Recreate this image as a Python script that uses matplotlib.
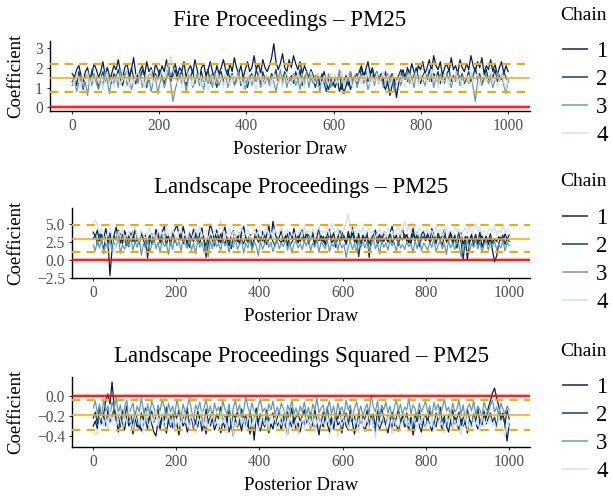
import matplotlib
matplotlib.use("Agg")
import matplotlib.pyplot as plt
import matplotlib.transforms as mtransforms
from matplotlib.lines import Line2D
import numpy as np

plt.rcParams['font.family'] = ['Liberation Serif', 'DejaVu Serif']

# ---- data (thinned to every 5th draw) ----
titles = ['Fire Proceedings \u2013 PM25',
          'Landscape Proceedings \u2013 PM25',
          'Landscape Proceedings Squared \u2013 PM25']
chain_names = ['1', '2', '3', '4']
chain_colors = ['#011f4b', '#03396c', '#6497b1', '#cfe0ec']

fire_c1 = [1.7, 1.5, 1.9, 2.1, 1.6, 1.3, 1.8, 2.0, 1.4, 1.7,
           2.2, 1.9, 1.5, 1.8, 2.3, 1.6, 2.0, 1.2, 1.7, 2.1,
           1.9, 2.4, 1.8, 1.5, 2.0, 2.2, 1.6, 1.9, 2.5, 1.7,
           1.4, 1.9, 2.1, 1.6, 2.3, 1.8, 2.0, 1.5, 2.2, 1.9,
           1.6, 2.1, 1.8, 2.4, 1.7, 1.3, 1.9, 2.2, 1.6, 2.0,
           1.8, 2.3, 1.5, 1.9, 2.1, 1.7, 2.4, 1.9, 1.4, 2.0,
           2.2, 1.6, 1.9, 2.3, 1.8, 1.5, 2.1, 1.7, 2.0, 2.4,
           1.9, 1.6, 2.2, 1.8, 2.5, 2.0, 1.7, 2.1, 1.5, 1.9,
           2.3, 1.8, 2.0, 2.6, 1.9, 2.2, 1.7, 2.4, 2.0, 1.8,
           2.1, 2.5, 3.2, 2.3, 1.9, 2.2, 2.7, 2.0, 1.8, 2.4,
           2.0, 2.6, 2.2, 1.9, 2.3, 1.7, 2.1, 1.8, 1.5, 1.9,
           1.6, 1.3, 1.7, 1.1, 1.4, 1.8, 1.2, 0.9, 1.5, 1.3,
           1.0, 1.4, 0.8, 1.2, 0.7, 1.1, 1.5, 0.9, 1.3, 1.6,
           1.2, 1.8, 2.1, 1.6, 1.9, 2.3, 1.7, 2.0, 1.5, 1.8,
           1.4, 1.7, 1.2, 0.9, 1.3, 0.6, 1.1, 1.5, 0.5, 1.2,
           1.6, 1.9, 1.4, 2.0, 1.7, 2.2, 1.8, 1.5, 2.1, 1.9,
           2.3, 1.7, 2.0, 2.4, 1.8, 2.6, 2.1, 1.9, 2.3, 1.6,
           2.0, 2.2, 1.8, 2.5, 1.9, 2.1, 1.7, 2.4, 2.0, 1.8,
           2.2, 1.9, 2.6, 2.1, 1.8, 2.3, 2.0, 2.5, 1.7, 2.1,
           1.9, 2.4, 1.8, 2.2, 1.6, 2.0, 2.3, 1.7, 2.1, 1.8]
fire_c2 = [1.3, 1.6, 1.1, 1.8, 1.4, 0.9, 1.5, 1.7, 1.2, 1.9,
           1.4, 1.6, 1.0, 1.5, 1.8, 1.3, 2.0, 1.6, 1.2, 1.7,
           1.5, 1.9, 1.4, 1.1, 1.6, 1.8, 1.3, 2.0, 1.5, 1.2,
           1.7, 1.4, 1.9, 1.6, 1.0, 1.5, 1.8, 1.3, 1.7, 1.4,
           1.9, 1.5, 1.2, 1.7, 2.1, 1.4, 1.6, 1.9, 1.3, 1.6,
           1.8, 1.4, 1.1, 1.7, 1.5, 1.9, 1.2, 1.6, 1.4, 1.8,
           1.3, 1.5, 1.9, 1.2, 1.7, 1.4, 1.0, 1.6, 1.8, 1.3,
           1.6, 1.9, 1.4, 1.7, 1.2, 1.5, 1.8, 1.1, 1.6, 1.4,
           1.0, 1.5, 1.7, 1.3, 1.9, 1.5, 1.2, 1.8, 1.4, 1.6,
           1.3, 1.7, 1.5, 1.9, 1.2, 1.6, 1.4, 1.8, 1.5, 1.3,
           1.6, 1.2, 1.8, 1.4, 1.9, 1.1, 1.5, 1.7, 1.3, 1.8,
           1.4, 1.0, 1.6, 1.3, 1.7, 1.2, 0.8, 1.4, 1.6, 1.1,
           1.5, 1.2, 1.7, 0.9, 1.4, 1.6, 1.1, 1.8, 1.3, 1.5,
           1.7, 1.4, 2.0, 1.5, 1.8, 1.3, 1.6, 1.9, 1.4, 1.7,
           1.2, 1.6, 1.3, 1.8, 1.1, 1.5, 1.7, 1.0, 1.4, 1.6,
           1.9, 1.5, 1.7, 1.3, 1.8, 1.4, 1.6, 2.0, 1.5, 1.2,
           1.6, 1.8, 1.4, 1.9, 1.3, 1.7, 1.5, 1.8, 1.2, 1.6,
           1.4, 1.7, 1.9, 1.3, 1.6, 1.5, 1.8, 1.4, 1.7, 1.2,
           1.5, 1.8, 1.3, 1.6, 2.0, 1.4, 1.7, 1.2, 1.6, 1.9,
           1.4, 1.7, 1.5, 1.9, 1.3, 1.6, 1.4, 1.8, 1.5, 1.3]
fire_c3 = [1.1, 1.4, 0.8, 1.2, 1.6, 1.0, 1.3, 0.6, 1.5, 1.1,
           1.7, 1.2, 0.9, 1.4, 1.1, 1.8, 1.3, 0.7, 1.5, 1.2,
           1.6, 1.0, 1.9, 1.4, 1.7, 1.1, 1.5, 0.9, 1.3, 1.6,
           1.2, 1.8, 1.0, 1.4, 1.1, 1.6, 0.8, 1.3, 1.5, 0.7,
           1.2, 1.6, 1.0, 1.4, 2.0, 1.1, 0.3, 0.9, 1.3, 1.7,
           1.2, 1.5, 0.8, 1.4, 1.6, 1.0, 1.3, 1.7, 1.1, 1.4,
           0.9, 1.5, 1.2, 1.6, 1.0, 1.8, 1.3, 1.1, 1.5, 1.2,
           1.7, 1.0, 1.4, 1.6, 1.1, 1.3, 1.8, 1.2, 1.5, 0.9,
           1.4, 1.6, 1.1, 1.5, 1.3, 1.7, 1.0, 1.4, 1.2, 1.6,
           1.1, 1.5, 1.3, 0.8, 1.4, 1.9, 1.2, 1.6, 1.0, 1.5,
           1.3, 1.7, 1.1, 1.4, 0.9, 1.6, 1.2, 1.8, 1.0, 1.5,
           1.2, 1.6, 1.4, 0.8, 1.3, 1.5, 1.1, 1.7, 1.0, 1.4,
           1.6, 1.2, 1.9, 1.4, 1.1, 1.5, 1.3, 1.8, 1.2, 1.6,
           1.0, 1.4, 1.7, 1.2, 1.5, 0.9, 1.3, 1.6, 1.1, 1.8,
           1.3, 1.5, 1.0, 1.4, 1.7, 1.2, 1.6, 0.8, 1.3, 1.5,
           1.1, 1.6, 1.4, 1.8, 1.2, 1.5, 1.0, 1.7, 1.3, 1.6,
           1.4, 1.1, 1.6, 1.3, 1.8, 1.0, 1.5, 1.2, 1.7, 1.4,
           1.2, 1.7, 1.4, 1.0, 1.5, 1.3, 1.8, 1.1, 1.6, 1.4,
           1.5, 1.2, 1.7, 1.0, 0.3, 1.3, 1.6, 1.1, 1.4, 1.7,
           1.2, 1.5, 1.0, 1.4, 1.8, 1.3, 1.6, 1.1, 0.7, 1.4]
fire_c4 = [1.5, 1.2, 1.7, 1.4, 1.0, 1.6, 1.3, 1.8, 1.1, 1.5,
           1.3, 1.7, 1.2, 1.6, 0.9, 1.4, 1.8, 1.2, 1.5, 1.0,
           1.4, 1.7, 1.1, 1.6, 1.3, 1.8, 1.0, 1.5, 1.2, 1.6,
           1.8, 1.3, 1.5, 1.0, 1.7, 1.4, 1.9, 1.2, 1.6, 1.3,
           1.5, 1.9, 1.4, 1.7, 2.2, 2.6, 1.8, 1.6, 1.2, 1.5,
           1.0, 1.6, 1.3, 1.8, 1.4, 1.1, 1.6, 1.3, 1.7, 1.0,
           1.5, 1.2, 0.8, 1.4, 1.6, 1.2, 1.8, 1.3, 1.5, 1.0,
           1.7, 1.4, 1.1, 1.6, 1.3, 1.7, 1.2, 1.5, 0.9, 1.4,
           1.8, 1.2, 1.6, 1.3, 0.9, 1.5, 1.7, 1.1, 1.4, 1.6,
           1.5, 1.1, 1.7, 1.4, 1.2, 1.6, 1.0, 1.5, 1.8, 1.3,
           1.1, 1.6, 1.4, 1.7, 1.2, 1.5, 1.0, 1.6, 1.3, 1.8,
           1.4, 1.2, 1.7, 1.5, 1.0, 1.6, 1.4, 1.1, 1.7, 1.3,
           1.6, 1.2, 1.5, 1.8, 1.1, 1.4, 1.6, 1.3, 1.0, 1.5,
           1.3, 1.7, 1.2, 1.6, 1.4, 1.9, 1.1, 1.5, 1.3, 1.7,
           1.2, 1.5, 1.8, 1.3, 1.6, 1.0, 1.4, 1.7, 1.2, 1.5,
           1.6, 1.3, 1.0, 1.5, 1.7, 1.2, 1.4, 1.8, 1.1, 1.6,
           1.4, 1.7, 1.2, 1.5, 1.9, 1.3, 1.6, 1.0, 1.5, 1.2,
           1.7, 1.4, 1.1, 1.6, 1.3, 1.8, 1.2, 1.5, 1.0, 1.4,
           1.6, 1.3, 1.8, 1.2, 1.5, 1.7, 1.1, 1.4, 1.6, 1.3,
           1.5, 1.8, 1.2, 1.6, 1.0, 1.4, 1.7, 1.3, 0.9, 1.5]

land_c1 = [3.8, 3.2, 4.1, 2.6, 3.5, 2.9, 4.3, 3.0, -2.2, 1.4,
           3.4, 4.5, 2.8, 3.6, 2.2, 4.0, 3.1, 1.8, 3.7, 2.5,
           4.3, 3.0, 2.1, 3.9, 2.7, 3.4, 0.2, 2.9, 3.6, 2.4,
           4.2, 3.1, 2.5, 3.8, 4.6, 2.9, 3.3, 2.0, 3.7, 4.1,
           4.8, 3.5, 2.7, 4.6, 3.3, 2.0, 3.8, 2.9, 4.2, 3.1,
           2.4, 3.6, 4.4, 2.8, 1.7, 3.3, 4.9, 3.9, 2.6, 4.1,
           3.0, 2.3, 3.7, 4.5, 2.9, 1.9, 3.4, 4.0, 2.5, 3.2,
           2.1, 3.8, 4.6, 3.0, 2.4, 3.5, 1.6, 2.8, 4.2, 3.3,
           2.6, 3.9, 2.2, 3.4, 4.7, 2.9, 5.3, 3.6, 2.7, 3.1,
           4.0, 2.5, 3.3, 1.9, 3.8, 2.8, 4.3, 3.0, 2.3, 3.6,
           4.1, 2.7, 3.5, 3.4, 2.9, 3.8, 2.2, 3.1, 4.4, 2.6,
           3.2, 2.0, 3.5, 4.2, 2.8, 3.7, 2.4, 3.0, 4.0, 2.7,
           3.3, 2.1, 3.9, 2.6, 4.5, 3.0, 2.3, 3.6, 1.8, 3.2,
           2.5, 3.8, 0.3, 2.9, 3.4, 4.1, 2.7, 3.5, 2.2, 3.9,
           3.1, 2.4, 3.7, 4.6, 2.8, 3.3, 2.0, 3.6, 4.2, 2.9,
           3.5, 2.3, 3.0, 4.4, 2.6, 3.8, 2.1, 3.4, 4.0, 2.7,
           3.6, 2.5, 4.3, 3.1, 2.2, 3.7, 2.8, 3.3, 4.1, 2.4,
           3.0, 3.9, 2.5, 3.4, 1.6, 2.9, 3.7, 2.0, 3.2, 0.0,
           2.7, 3.5, 1.9, 3.1, 2.4, 3.8, 1.7, 2.6, 3.3, 2.1,
           3.0, 1.3, -0.3, 0.5, 2.2, 3.1, 2.5, 3.6, 2.8, 3.4]
land_c2 = [2.9, 3.4, 2.1, 3.8, 2.6, 1.4, 3.1, 2.4, 3.7, 2.0,
           3.2, 2.7, 4.1, 2.3, 3.5, 2.9, 1.9, 3.3, 2.6, 3.9,
           2.2, 3.0, 2.5, 3.6, 2.8, 1.8, 2.4, 3.4, 2.1, 3.1,
           2.7, 3.8, 2.3, 2.9, 3.5, 2.0, 3.2, 2.6, 4.0, 2.4,
           3.0, 2.7, 3.6, 2.2, 3.3, 2.8, 1.7, 3.1, 2.5, 3.7,
           2.9, 2.3, 3.4, 2.6, 0.3, 2.1, 3.5, 2.7, 1.9, 3.2,
           2.4, 3.6, 2.8, 2.2, 3.0, 2.6, 1.5, 2.9, 3.3, 2.5,
           3.7, 2.8, 2.2, 3.1, 2.6, 3.4, 1.8, 2.9, 3.2, 2.4,
           3.0, 2.6, 3.5, 2.1, 2.8, 3.3, 2.5, 1.9, 3.0, 2.7,
           2.3, 3.2, 2.6, 3.6, 2.0, 2.4, 3.0, 2.7, 3.3, 2.5,
           3.1, 2.5, 3.8, 2.2, 2.9, 3.4, 2.0, 3.0, 2.6, 3.5,
           2.4, 3.1, 2.7, 3.6, 2.3, 2.8, 1.7, 3.2, 2.6, 3.9,
           2.8, 2.2, 3.3, 2.7, 3.7, 2.4, 3.0, 0.4, 2.5, 3.4,
           2.9, 3.5, 2.2, 3.0, 2.7, 3.6, 2.1, 2.8, 3.3, 2.5,
           3.2, 2.6, 3.8, 2.3, 2.9, 3.4, 2.0, 3.1, 2.7, 3.5,
           2.5, 3.0, 2.2, 3.6, 2.8, 3.3, 1.8, 2.9, 3.2, 2.6,
           3.4, 2.3, 2.9, 3.7, 2.5, 3.1, 2.7, 2.0, 3.3, 2.8,
           2.6, 3.5, 2.1, 3.0, 2.7, 3.8, 2.4, 0.0, 2.9, 3.2,
           2.2, 3.1, 2.7, 3.5, 2.0, 2.8, 3.3, 2.4, 3.0, 2.6,
           3.6, 2.3, 2.9, 2.5, 3.2, 2.7, 3.4, 2.1, 2.9, 2.5]
land_c3 = [2.0, 1.2, 2.7, 1.6, 3.0, 0.8, 2.3, 1.5, 2.8, 1.1,
           2.4, 1.8, 3.2, 0.9, 2.1, 1.4, 2.6, 1.9, 3.1, 1.3,
           2.5, 1.7, 2.9, 0.6, 2.2, 1.6, 2.7, 1.1, 2.0, 3.0,
           1.5, 2.4, 1.0, 2.8, 1.8, 2.2, 0.7, 2.6, 1.4, 3.3,
           1.9, 2.5, 1.2, 2.9, 2.1, 1.6, 3.0, 1.3, 2.3, 0.8,
           2.7, 1.7, 2.4, 1.1, 2.0, 0.4, 2.6, 1.5, 3.1, 1.8,
           2.2, 1.3, 2.8, 1.9, 2.4, 1.0, 2.5, 1.7, 3.0, 1.4,
           2.1, 2.7, 0.9, 2.3, 1.6, 2.8, 1.2, 2.5, 1.9, 0.5,
           2.6, 1.4, 2.2, 2.9, 1.7, 2.4, 1.1, 2.0, 2.7, 1.5,
           2.3, 1.8, 2.8, 1.3, 2.5, 0.9, 2.1, 2.6, 1.6, 2.2,
           1.4, 2.6, 1.9, 3.0, 1.2, 2.3, 1.7, 2.8, 1.0, 2.4,
           2.0, 1.5, 2.7, 1.1, 2.2, 1.8, 2.9, 1.3, 2.5, 1.6,
           2.1, 0.3, 1.7, 2.6, 1.4, 2.3, 1.0, 2.8, 1.9, 2.4,
           1.6, 2.5, 1.2, 2.0, 2.9, 1.5, 2.2, 0.8, 2.6, 1.7,
           2.3, 1.3, 2.7, 1.9, 2.4, 1.1, 2.8, 1.6, 2.1, 1.4,
           2.5, 1.8, 2.2, 1.0, 2.6, 1.5, 3.0, 1.2, 2.3, 1.9,
           1.3, 2.4, 1.7, 2.9, 1.1, 2.0, 2.6, 1.5, 2.2, 0.7,
           2.7, 1.6, 2.3, 1.4, 2.5, 1.9, 0.4, 2.1, 1.8, 2.6,
           1.2, 2.2, 1.7, 2.8, 1.5, 2.4, 1.0, 2.0, 2.6, 1.3,
           2.3, 1.8, 2.5, 1.4, 2.1, 1.6, 2.7, 1.2, 2.4, 1.9]
land_c4 = [5.1, 5.5, 4.8, 3.6, 4.2, 3.1, 2.4, 3.8, 4.5, 3.3,
           1.0, 2.2, 3.9, 3.0, 4.3, 2.7, 3.5, 4.0, 2.9, 3.7,
           4.6, 3.2, 2.6, 4.1, 3.4, 2.8, 3.9, 4.4, 3.1, 3.6,
           2.5, 4.2, 3.3, 3.8, 2.9, 4.5, 3.5, 3.0, 4.1, 3.4,
           2.7, 3.9, 4.3, 3.2, 3.6, 2.8, 4.0, 3.5, 3.0, 4.4,
           3.3, 4.6, 3.1, 3.8, 4.2, 2.9, 3.6, 3.3, 4.0, 3.5,
           3.7, 5.5, 4.1, 3.0, 3.6, 4.3, 3.2, 3.9, 2.8, 4.0,
           3.4, 4.5, 3.1, 3.8, 4.2, 2.9, 3.6, 4.4, 3.3, 3.9,
           4.1, 3.0, 3.7, 4.5, 3.2, 3.9, 2.8, 4.3, 3.5, 3.8,
           4.6, 3.1, 3.8, 4.2, 2.9, 3.6, 3.3, 4.0, 3.5, 4.4,
           3.2, 4.7, 3.6, 4.1, 3.0, 4.3, 3.5, 3.9, 4.5, 3.4,
           4.0, 3.6, 4.8, 3.3, 5.0, 4.1, 3.7, 4.4, 3.2, 3.9,
           4.1, 5.2, 6.3, 4.5, 3.8, 4.9, 3.4, 4.2, 3.7, 4.6,
           3.2, 3.9, 4.4, 3.5, 4.1, 3.0, 3.7, 4.3, 3.4, 3.9,
           3.1, 4.5, 3.6, 4.0, 3.3, 3.8, 4.8, 3.5, 4.2, 5.3,
           3.9, 4.6, 3.7, 5.1, 4.0, 3.4, 4.4, 3.8, 4.1, 3.6,
           4.3, 3.5, 4.0, 3.2, 4.6, 3.7, 4.2, 3.3, 3.9, 4.5,
           3.6, 4.1, 3.4, 4.7, 3.8, 4.3, 3.1, 3.9, 4.4, 3.5,
           4.8, 3.7, 4.2, 5.0, 3.9, 4.5, 3.6, 4.1, 3.3, 4.0,
           4.4, 3.8, 4.6, 3.5, 4.1, 3.7, 4.9, 3.6, 4.2, 3.9]

sq_c1 = [-0.30, -0.25, -0.33, -0.22, -0.28, -0.18, -0.05, 0.02, -0.08, 0.14,
         -0.10, -0.24, -0.36, -0.21, -0.28, -0.34, -0.19, -0.30, -0.25, -0.38,
         -0.22, -0.31, -0.27, -0.35, -0.29, -0.24, -0.33, -0.20, -0.28, -0.36,
         -0.40, -0.26, -0.33, -0.20, -0.29, -0.37, -0.24, -0.31, -0.18, -0.34,
         -0.27, -0.39, -0.23, -0.30, -0.25, -0.36, -0.29, -0.21, -0.33, -0.26,
         -0.31, -0.19, -0.35, -0.27, -0.38, -0.24, -0.30, -0.22, -0.34, -0.28,
         -0.29, -0.37, -0.25, -0.32, -0.20, -0.36, -0.28, -0.40, -0.23, -0.31,
         -0.26, -0.35, -0.21, -0.30, -0.27, -0.38, -0.24, -0.44, -0.19, -0.29,
         -0.35, -0.25, -0.31, -0.22, -0.37, -0.28, -0.33, -0.20, -0.30, -0.26,
         -0.34, -0.23, -0.29, -0.38, -0.25, -0.31, -0.21, -0.33, -0.27, -0.36,
         -0.24, -0.30, -0.18, -0.26, -0.32, -0.22, -0.35, -0.27, -0.39, -0.25,
         -0.31, -0.21, -0.28, -0.36, -0.24, -0.33, -0.19, -0.29, -0.26, -0.37,
         -0.23, -0.30, -0.34, -0.20, -0.27, -0.38, -0.25, -0.32, -0.22, -0.29,
         -0.35, -0.26, -0.31, -0.19, -0.28, -0.36, -0.24, -0.33, -0.27, -0.21,
         -0.30, -0.37, -0.25, -0.32, -0.22, -0.29, -0.35, -0.26, -0.20, -0.31,
         -0.27, -0.34, -0.23, -0.39, -0.28, -0.21, -0.30, -0.36, -0.25, -0.32,
         -0.22, -0.29, -0.35, -0.26, -0.31, -0.19, -0.27, -0.33, -0.24, -0.30,
         -0.36, -0.25, -0.32, -0.21, -0.28, -0.34, -0.23, -0.30, -0.26, -0.37,
         -0.24, -0.31, -0.20, -0.27, -0.33, -0.25, -0.29, -0.18, -0.22, -0.12,
         -0.05, 0.03, 0.08, -0.02, -0.10, -0.21, -0.17, -0.30, -0.45, -0.28]
sq_c2 = [-0.22, -0.16, -0.28, -0.11, -0.24, -0.19, -0.30, -0.14, -0.26, -0.20,
         -0.13, -0.27, -0.18, -0.31, -0.15, -0.23, -0.10, -0.25, -0.19, -0.29,
         -0.16, -0.22, -0.33, -0.17, -0.24, -0.12, -0.28, -0.20, -0.15, -0.26,
         -0.21, -0.13, -0.29, -0.18, -0.24, -0.11, -0.27, -0.19, -0.32, -0.16,
         -0.23, -0.14, -0.28, -0.20, -0.25, -0.12, -0.30, -0.17, -0.22, -0.27,
         -0.15, -0.24, -0.19, -0.31, -0.13, -0.26, -0.21, -0.16, -0.29, -0.18,
         -0.23, -0.11, -0.27, -0.20, -0.25, -0.14, -0.30, -0.18, -0.22, -0.16,
         -0.28, -0.13, -0.24, -0.19, -0.31, -0.15, -0.26, -0.21, -0.12, -0.27,
         -0.18, -0.23, -0.29, -0.14, -0.25, -0.20, -0.17, -0.28, -0.22, -0.15,
         -0.26, -0.19, -0.31, -0.16, -0.24, -0.12, -0.28, -0.21, -0.18, -0.25,
         -0.20, -0.14, -0.27, -0.22, -0.17, -0.30, -0.13, -0.25, -0.19, -0.29,
         -0.16, -0.24, -0.11, -0.28, -0.21, -0.33, -0.18, -0.23, -0.15, -0.26,
         -0.22, -0.17, -0.29, -0.13, -0.25, -0.20, -0.31, -0.16, -0.27, -0.19,
         -0.24, -0.14, -0.28, -0.21, -0.18, -0.32, -0.15, -0.26, -0.12, -0.23,
         -0.29, -0.19, -0.25, -0.16, -0.30, -0.22, -0.13, -0.27, -0.20, -0.24,
         -0.17, -0.28, -0.21, -0.33, -0.18, -0.25, -0.14, -0.29, -0.23, -0.19,
         -0.26, -0.15, -0.22, -0.30, -0.17, -0.24, -0.11, -0.27, -0.20, -0.31,
         -0.19, -0.25, -0.14, -0.28, -0.22, -0.16, -0.30, -0.21, -0.26, -0.13,
         -0.23, -0.29, -0.18, -0.25, -0.12, -0.27, -0.20, -0.15, -0.28, -0.22,
         -0.17, -0.26, -0.21, -0.31, -0.16, -0.24, -0.19, -0.28, -0.14, -0.23]
sq_c3 = [-0.12, -0.05, -0.18, -0.08, -0.22, -0.03, -0.15, -0.10, -0.20, -0.06,
         -0.14, -0.01, -0.17, -0.09, -0.24, -0.11, -0.04, -0.19, -0.13, -0.07,
         -0.21, -0.10, -0.16, -0.02, -0.14, -0.26, -0.08, -0.18, -0.05, -0.12,
         -0.20, -0.09, -0.15, -0.03, -0.11, -0.23, -0.07, -0.16, -0.10, -0.19,
         -0.04, -0.13, -0.21, -0.08, -0.17, -0.11, -0.02, -0.15, -0.24, -0.09,
         -0.14, -0.06, -0.19, -0.12, -0.03, -0.17, -0.10, -0.22, -0.07, -0.15,
         -0.11, -0.20, -0.05, -0.13, -0.18, -0.08, -0.25, -0.12, -0.04, -0.16,
         -0.09, -0.21, -0.14, -0.01, -0.11, -0.18, -0.07, -0.15, -0.23, -0.10,
         -0.03, -0.16, -0.12, -0.20, -0.08, -0.14, -0.05, -0.19, -0.11, -0.17,
         -0.07, -0.13, -0.22, -0.09, -0.15, -0.04, -0.18, -0.12, -0.20, -0.10,
         -0.16, -0.06, -0.19, -0.11, -0.24, -0.08, -0.14, -0.02, -0.17, -0.12,
         -0.09, -0.21, -0.13, -0.05, -0.18, -0.10, -0.23, -0.07, -0.15, -0.11,
         -0.19, -0.04, -0.14, -0.09, -0.22, -0.12, -0.06, -0.17, -0.10, -0.20,
         -0.13, -0.08, -0.18, 0.01, -0.11, -0.16, -0.05, -0.21, -0.09, -0.14,
         -0.06, -0.17, -0.10, -0.23, -0.12, -0.04, -0.15, -0.08, -0.19, -0.11,
         -0.14, -0.02, -0.18, -0.09, -0.13, -0.21, -0.07, -0.16, -0.11, -0.05,
         -0.17, -0.10, -0.22, -0.06, -0.14, -0.08, -0.19, -0.12, -0.03, -0.15,
         -0.11, -0.20, -0.07, -0.16, -0.13, -0.04, -0.18, -0.09, -0.24, -0.12,
         -0.08, -0.15, -0.05, -0.19, -0.10, -0.14, -0.21, -0.06, -0.13, -0.17,
         -0.09, -0.04, -0.16, -0.11, -0.20, -0.07, -0.13, -0.18, -0.10, -0.14]
sq_c4 = [-0.36, -0.39, -0.38, -0.25, -0.18, -0.30, -0.22, -0.34, -0.14, -0.27,
         -0.20, -0.31, -0.16, -0.24, -0.35, -0.19, -0.28, -0.12, -0.26, -0.33,
         -0.21, -0.17, -0.29, -0.23, -0.37, -0.15, -0.27, -0.32, -0.20, -0.25,
         -0.13, -0.30, -0.22, -0.18, -0.34, -0.26, -0.16, -0.29, -0.21, -0.36,
         -0.24, -0.19, -0.31, -0.14, -0.27, -0.23, -0.33, -0.17, -0.28, -0.38,
         -0.22, -0.26, -0.15, -0.30, -0.20, -0.35, -0.24, -0.18, -0.29, -0.25,
         -0.32, -0.16, -0.27, -0.21, -0.37, -0.23, -0.19, -0.40, -0.26, -0.30,
         -0.17, -0.28, -0.22, -0.34, -0.20, -0.25, -0.31, -0.15, -0.27, -0.36,
         -0.23, -0.19, -0.29, -0.24, -0.33, -0.18, -0.26, -0.21, -0.35, -0.28,
         -0.16, -0.30, -0.23, -0.38, -0.20, -0.27, -0.33, -0.24, -0.39, -0.29,
         -0.22, -0.34, -0.18, -0.27, -0.31, -0.21, -0.36, -0.25, -0.17, -0.29,
         -0.24, -0.32, -0.19, -0.28, -0.35, -0.22, -0.26, -0.41, -0.30, -0.18,
         -0.27, -0.21, -0.33, -0.25, -0.16, -0.29, -0.23, -0.37, -0.20, -0.31,
         -0.26, -0.19, -0.34, -0.22, -0.28, -0.42, -0.24, -0.30, -0.17, -0.27,
         -0.33, -0.20, -0.26, -0.38, -0.23, -0.29, -0.18, -0.32, -0.25, -0.21,
         -0.30, -0.24, -0.36, -0.19, -0.27, -0.33, -0.22, -0.28, -0.16, -0.34,
         -0.25, -0.31, -0.20, -0.35, -0.23, -0.18, -0.29, -0.26, -0.37, -0.21,
         -0.28, -0.17, -0.32, -0.24, -0.30, -0.22, -0.39, -0.27, -0.19, -0.33,
         -0.26, -0.34, -0.21, -0.29, -0.24, -0.36, -0.18, -0.31, -0.25, -0.28,
         -0.22, -0.30, -0.27, -0.35, -0.20, -0.29, -0.33, -0.41, -0.24, -0.31]

# posterior mean and 95% interval per panel
post_mean = [1.5, 2.8, -0.19]
post_lo = [0.8, 1.05, -0.34]
post_hi = [2.2, 4.85, -0.04]

y_ticks = [[0, 1, 2, 3], [-2.5, 0.0, 2.5, 5.0], [-0.4, -0.2, 0.0]]
y_ticklabels = [['0', '1', '2', '3'],
                ['\u22122.5', '0.0', '2.5', '5.0'],
                ['\u22120.4', '\u22120.2', '0.0']]
x_ticks = [0, 200, 400, 600, 800, 1000]

panels = [[fire_c1, fire_c2, fire_c3, fire_c4],
          [land_c1, land_c2, land_c3, land_c4],
          [sq_c1, sq_c2, sq_c3, sq_c4]]

W, H = 613, 496
ax_px = [(50, 41, 530, 111), (72, 208, 530, 278), (72, 377, 530, 447)]
y_lims = [(-0.18, 3.34), (-2.55, 7.15), (-0.51, 0.19)]
legend_title_y = [19.5, 186.5, 355.5]

fig = plt.figure(figsize=(W / 100, H / 100), dpi=100)

for i, chains in enumerate(panels):
    l, t, r, b = ax_px[i]
    ax = fig.add_axes([l / W, 1 - b / H, (r - l) / W, (b - t) / H])

    for vals, col in zip(chains, chain_colors):
        draws = np.linspace(1, 1000, len(vals))
        ax.plot(draws, vals, color=col, lw=0.9, zorder=2)

    ax.axhline(0, color='#ff0000', lw=3.2, alpha=0.25, zorder=3)
    ax.axhline(0, color='#ff0000', lw=1.2, zorder=3)
    ax.axhline(post_mean[i], color='#ffa500', lw=1.1, zorder=3)
    for v in (post_lo[i], post_hi[i]):
        ax.axhline(v, color='#ffa500', lw=1.5, ls=(0, (4, 3)), zorder=3)

    ax.set_xlim(-50, 1050)
    ax.set_ylim(*y_lims[i])
    ax.set_xticks(x_ticks)
    ax.set_yticks(y_ticks[i])
    ax.set_yticklabels(y_ticklabels[i])

    for s in ('top', 'right'):
        ax.spines[s].set_visible(False)
    for s in ('left', 'bottom'):
        ax.spines[s].set_linewidth(1.0)
        ax.spines[s].set_color('black')
    ax.tick_params(length=2.2, width=0.8, color='#333333', pad=2.9,
                   labelsize=11.2, labelcolor='#4d4d4d')

    ax.set_title(titles[i], fontsize=16.5, pad=10.5)
    ax.set_xlabel('Posterior Draw', fontsize=13.5)
    ax.xaxis.set_label_coords(0.5, -43 / (b - t))
    ax.xaxis.label.set_va('baseline')
    ax.set_ylabel('Coefficient', fontsize=13.5, va='center')
    ax.yaxis.set_label_coords(16 / W, 0.5,
                              transform=mtransforms.blended_transform_factory(fig.transFigure, ax.transAxes))

    # legend: title as separate text, entries as a legend box
    ty = legend_title_y[i]
    fig.text(560 / W, 1 - ty / H, 'Chain', fontsize=14, va='baseline', ha='left')
    handles = [Line2D([], [], color=c, lw=1.4, alpha=0.75) for c in chain_colors]
    ax.legend(handles, chain_names, loc='upper left',
              bbox_to_anchor=(563 / W, 1 - (ty + 21.5) / H),
              bbox_transform=fig.transFigure, frameon=False,
              fontsize=16.5, handlelength=1.05, handletextpad=0.4,
              labelspacing=0.31, borderpad=0, borderaxespad=0)

fig.savefig('out.png', dpi=100)
